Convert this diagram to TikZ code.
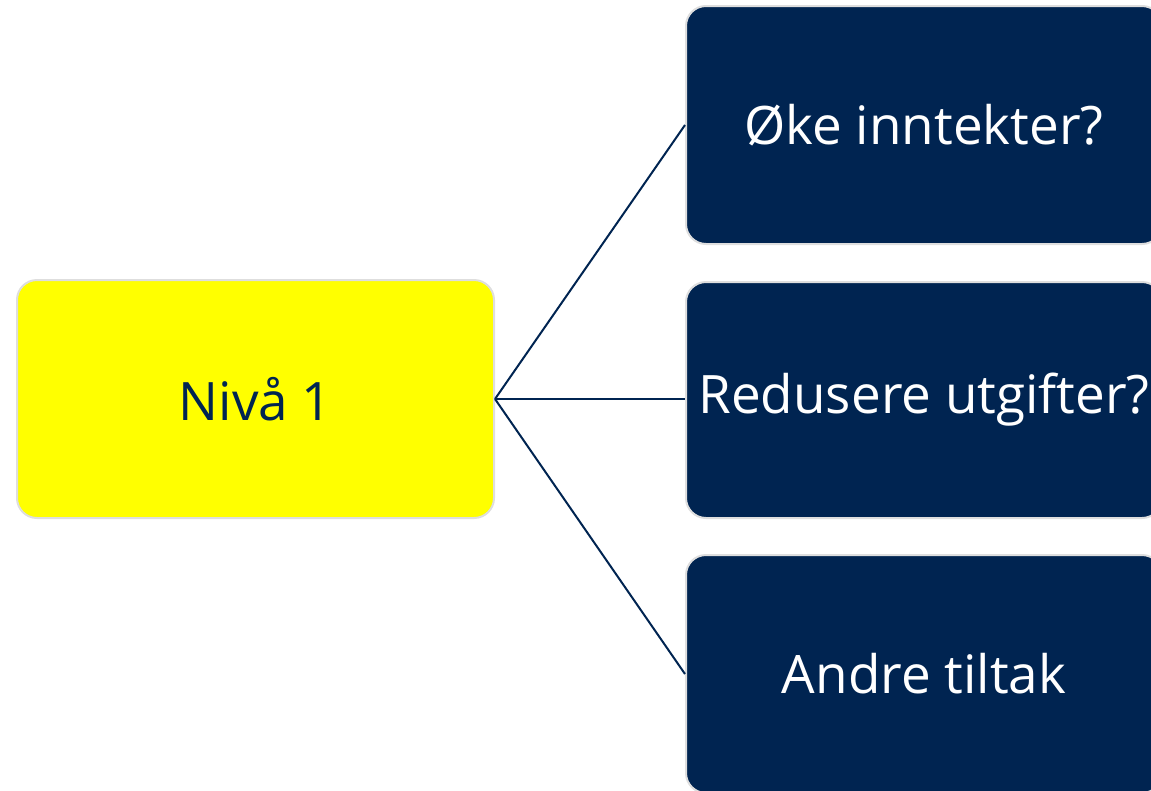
\documentclass[tikz,border=0pt]{standalone}
\usepackage{fontspec}
\setmainfont{Open Sans}
\definecolor{navy}{RGB}{0,36,81}
\definecolor{edge}{RGB}{222,222,222}
\definecolor{yel}{RGB}{255,255,0}
\begin{document}
\begin{tikzpicture}[x=1pt,y=-1pt,
  box/.style={draw=edge,line width=2pt,rounded corners=20pt,minimum width=476pt,minimum height=238pt,inner sep=0pt,font=\fontsize{53}{62}\selectfont},
  darkbox/.style={box,fill=navy,text=white},
  conn/.style={draw=navy,line width=2pt}]
\useasboundingbox (0,0) rectangle (1151,790);
\begin{scope}
\clip (0,0) rectangle (1151,790);
\node[box,fill=yel,text=navy,minimum width=477pt] (root) at (255.5,399) {Nivå 1};
\node[darkbox] (a) at (924,125) {Øke inntekter?};
\node[darkbox,minimum height=236pt] (b) at (924,400) {Redusere utgifter?};
\node[darkbox] (c) at (924,674) {Andre tiltak};
\draw[conn] (root.east) -- (a.west);
\draw[conn] (root.east) -- (b.west |- root.east);
\draw[conn] (root.east) -- (c.west);
\end{scope}
\end{tikzpicture}
\end{document}
